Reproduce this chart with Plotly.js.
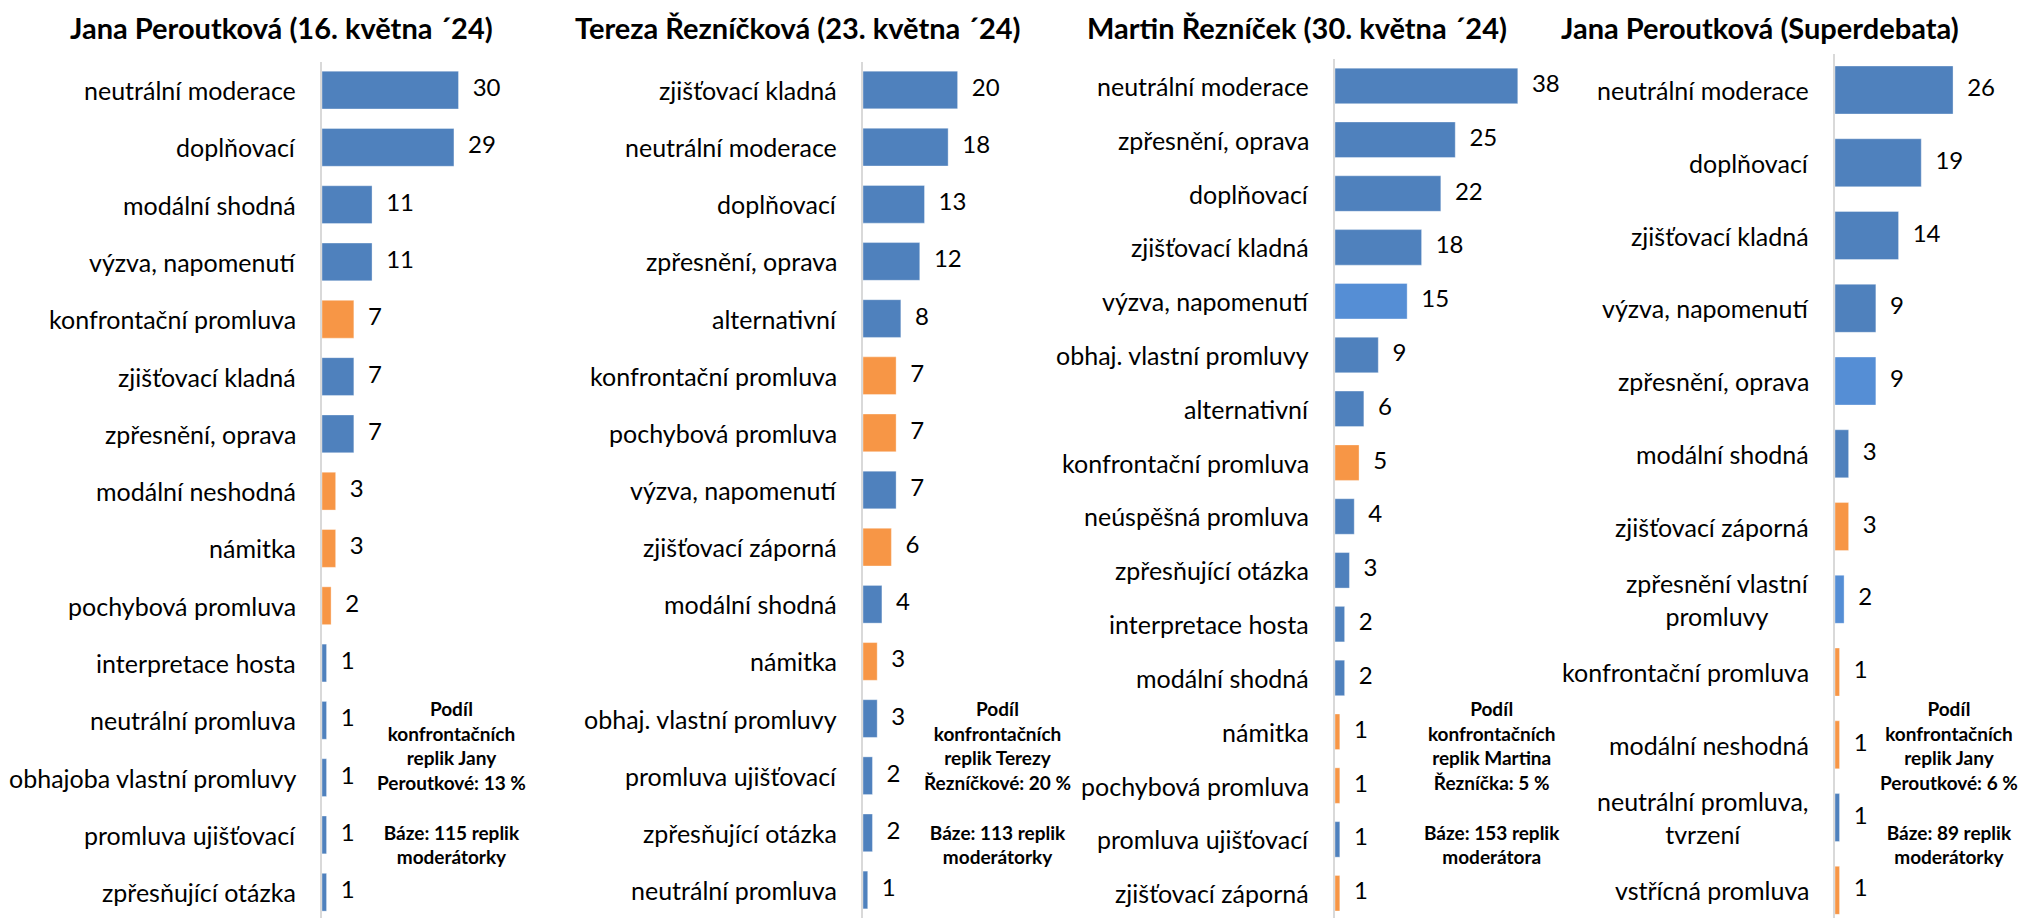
<!DOCTYPE html>
<html>
<head>
<meta charset="utf-8">
<script src="https://cdn.plot.ly/plotly-3.0.1.min.js"></script>
<style>
  html, body { margin: 0; padding: 0; background: #ffffff; }
  #chart { width: 2022px; height: 918px; }
</style>
</head>
<body>
<div id="chart"></div>
<script>
// ---------------- DATA ----------------
const titles = [
  'Jana Peroutková (16. května ´24)',
  'Tereza Řezníčková (23. května ´24)',
  'Martin Řezníček (30. května ´24)',
  'Jana Peroutková (Superdebata)'
];

const p1Categories = ['neutrální moderace', 'doplňovací', 'modální shodná', 'výzva, napomenutí',
  'konfrontační promluva', 'zjišťovací kladná', 'zpřesnění, oprava', 'modální neshodná', 'námitka',
  'pochybová promluva', 'interpretace hosta', 'neutrální promluva', 'obhajoba vlastní promluvy',
  'promluva ujišťovací', 'zpřesňující otázka'];
const p1Values = [30, 29, 11, 11, 7, 7, 7, 3, 3, 2, 1, 1, 1, 1, 1];

const p2Categories = ['zjišťovací kladná', 'neutrální moderace', 'doplňovací', 'zpřesnění, oprava',
  'alternativní', 'konfrontační promluva', 'pochybová promluva', 'výzva, napomenutí',
  'zjišťovací záporná', 'modální shodná', 'námitka', 'obhaj. vlastní promluvy',
  'promluva ujišťovací', 'zpřesňující otázka', 'neutrální promluva'];
const p2Values = [20, 18, 13, 12, 8, 7, 7, 7, 6, 4, 3, 3, 2, 2, 1];

const p3Categories = ['neutrální moderace', 'zpřesnění, oprava', 'doplňovací', 'zjišťovací kladná',
  'výzva, napomenutí', 'obhaj. vlastní promluvy', 'alternativní', 'konfrontační promluva',
  'neúspěšná promluva', 'zpřesňující otázka', 'interpretace hosta', 'modální shodná', 'námitka',
  'pochybová promluva', 'promluva ujišťovací', 'zjišťovací záporná'];
const p3Values = [38, 25, 22, 18, 15, 9, 6, 5, 4, 3, 2, 2, 1, 1, 1, 1];

const p4Categories = ['neutrální moderace', 'doplňovací', 'zjišťovací kladná', 'výzva, napomenutí',
  'zpřesnění, oprava', 'modální shodná', 'zjišťovací záporná', 'zpřesnění vlastní<br>promluvy',
  'konfrontační promluva', 'modální neshodná', 'neutrální promluva,<br>tvrzení', 'vstřícná promluva'];
const p4Values = [26, 19, 14, 9, 9, 3, 3, 2, 1, 1, 1, 1];

const confrontationalCategories = ['konfrontační promluva', 'modální neshodná', 'námitka',
  'pochybová promluva', 'zjišťovací záporná', 'vstřícná promluva'];

const notes = [
  'Podíl<br>konfrontačních<br>replik Jany<br>Peroutkové: 13 %<br> <br>Báze: 115 replik<br>moderátorky',
  'Podíl<br>konfrontačních<br>replik Terezy<br>Řezníčkové: 20 %<br> <br>Báze: 113 replik<br>moderátorky',
  'Podíl<br>konfrontačních<br>replik Martina<br>Řezníčka: 5 %<br> <br>Báze: 153 replik<br>moderátora',
  'Podíl<br>konfrontačních<br>replik Jany<br>Peroutkové: 6 %<br> <br>Báze: 89 replik<br>moderátorky'
];

// ---------------- STYLE / LAYOUT ----------------
const W = 2022, H = 918;
const BLUE = '#4F81BD', LIGHT_BLUE = '#558ED5', ORANGE = '#F79646';
const highlighted = [[], [], ['výzva, napomenutí'], ['zpřesnění, oprava', 'zpřesnění vlastní<br>promluvy']];

const panels = [
  { cats: p1Categories, vals: p1Values, axisPx: 322, xmax: 40, yr: [14.45, -0.49], topPx: 62, titleX: 281, noteX: 451 },
  { cats: p2Categories, vals: p2Values, axisPx: 863, xmax: 30, yr: [14.49, -0.49], topPx: 62, titleX: 798, noteX: 997 },
  { cats: p3Categories, vals: p3Values, axisPx: 1335, xmax: 40, yr: [15.46, -0.50], topPx: 59, titleX: 1297, noteX: 1492 },
  { cats: p4Categories, vals: p4Values, axisPx: 1835, xmax: 40, yr: [11.38, -0.495], topPx: 54, titleX: 1760, noteX: 1949 }
];
const pxPerUnit = [4.55, 4.73, 4.81, 4.54];

const FONT = 'Lato, "Open Sans", sans-serif';
const traces = [];
const annotations = [];
const layout = {
  width: W, height: H,
  margin: { l: 0, r: 0, t: 0, b: 0 },
  paper_bgcolor: '#ffffff', plot_bgcolor: 'rgba(0,0,0,0)',
  showlegend: false,
  bargap: 0.34,
  font: { family: FONT, color: '#000000' },
  annotations: annotations
};

panels.forEach((p, i) => {
  const n = i === 0 ? '' : String(i + 1);
  const xa = 'x' + n, ya = 'y' + n;
  const colors = p.cats.map(c => confrontationalCategories.includes(c) ? ORANGE
    : (highlighted[i].includes(c) ? LIGHT_BLUE : BLUE));
  traces.push({
    type: 'bar', orientation: 'h',
    x: p.vals, y: p.cats,
    xaxis: xa, yaxis: ya,
    marker: { color: colors, line: { color: 'rgba(255,255,255,0.35)', width: 1 } },
    hoverinfo: 'skip'
  });
  traces.push({
    type: 'scatter', mode: 'markers+text',
    x: p.vals, y: p.cats,
    xaxis: xa, yaxis: ya,
    text: p.vals.map(String),
    textposition: 'middle right',
    textfont: { family: FONT, size: 24, color: '#000000' },
    marker: { size: 21, opacity: 0 },
    cliponaxis: false,
    hoverinfo: 'skip'
  });
  const domW = p.xmax * pxPerUnit[i];
  layout['xaxis' + n] = {
    domain: [p.axisPx / W, (p.axisPx + domW) / W],
    range: [0, p.xmax],
    anchor: ya,
    showgrid: false, zeroline: false, showline: false, showticklabels: false, ticks: '',
    fixedrange: true
  };
  layout['yaxis' + n] = {
    domain: [0, (H - p.topPx) / H],
    type: 'category',
    range: p.yr,
    anchor: xa,
    showgrid: false, zeroline: false,
    showline: true, linecolor: '#D9D9D9', linewidth: 2,
    showticklabels: false, ticks: '',
    fixedrange: true
  };
  // category labels (centred multi-line, right edge near the axis)
  p.cats.forEach(c => {
    annotations.push({
      xref: xa + ' domain', yref: ya,
      x: 0, y: c,
      xanchor: 'right', yanchor: 'middle',
      xshift: -24,
      text: c, align: 'center', showarrow: false,
      font: { family: FONT, size: 25, color: '#000000' }
    });
  });
  // panel title
  annotations.push({
    xref: 'paper', yref: 'paper',
    x: p.titleX / W, y: 1 - 28 / H,
    xanchor: 'center', yanchor: 'middle',
    text: '<b>' + titles[i] + '</b>', showarrow: false,
    font: { family: FONT, size: 29, color: '#000000' }
  });
  // note
  annotations.push({
    xref: 'paper', yref: 'paper',
    x: p.noteX / W, y: 1 - 782 / H,
    xanchor: 'center', yanchor: 'middle',
    text: '<b>' + notes[i] + '</b>', align: 'center', showarrow: false,
    font: { family: FONT, size: 19, color: '#000000' }
  });
});

Plotly.newPlot('chart', traces, layout, { staticPlot: true, displayModeBar: false });
</script>
</body>
</html>
